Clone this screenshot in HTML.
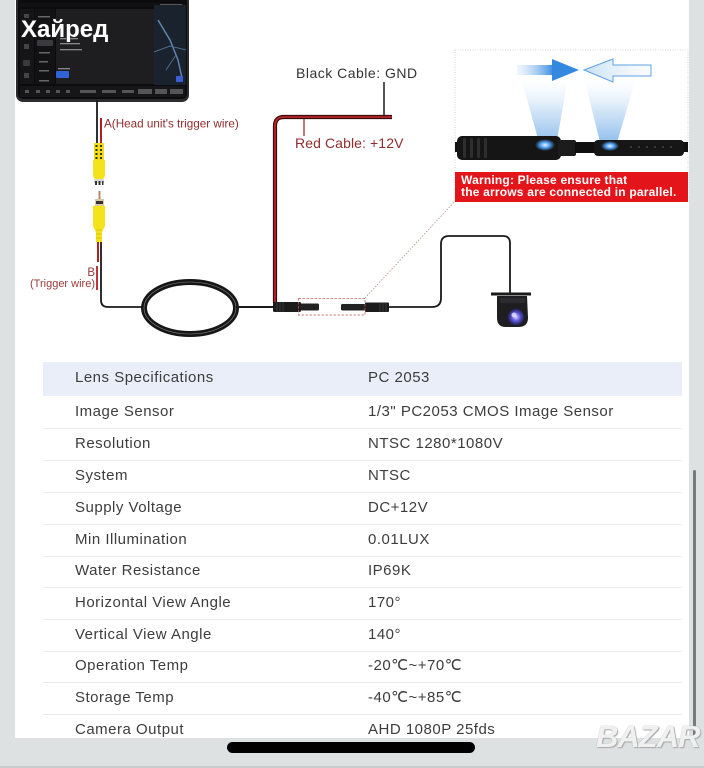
<!DOCTYPE html>
<html>
<head>
<meta charset="utf-8">
<style>
  html,body{margin:0;padding:0;}
  body{width:704px;height:768px;background:#dde1e1;position:relative;overflow:hidden;font-family:"Liberation Sans",Arial,sans-serif;}
  #panel{position:absolute;left:15px;top:0;width:674px;height:738px;background:#fff;overflow:hidden;}
  .lbl{position:absolute;white-space:nowrap;}
  .row{position:absolute;left:0;width:674px;height:18px;line-height:18px;font-size:15px;letter-spacing:0.5px;color:#3d3d3d;}
  .row .k{position:absolute;left:60px;}
  .row .v{position:absolute;left:353px;}
  .sep{position:absolute;left:28px;width:639px;height:1px;background:#ececec;}
</style>
</head>
<body>
<div id="panel">
  <div style="position:absolute;left:28px;top:362px;width:639px;height:34px;background:#e9eef9;"></div>
  <div class="row" style="top:369px;"><span class="k">Lens Specifications</span><span class="v">PC 2053</span></div>
  <div class="row" style="top:403px;"><span class="k">Image Sensor</span><span class="v">1/3" PC2053 CMOS Image Sensor</span></div>
  <div class="sep" style="top:428px;"></div>
  <div class="row" style="top:435px;"><span class="k">Resolution</span><span class="v">NTSC 1280*1080V</span></div>
  <div class="sep" style="top:460px;"></div>
  <div class="row" style="top:467px;"><span class="k">System</span><span class="v">NTSC</span></div>
  <div class="sep" style="top:492px;"></div>
  <div class="row" style="top:499px;"><span class="k">Supply Voltage</span><span class="v">DC+12V</span></div>
  <div class="sep" style="top:524px;"></div>
  <div class="row" style="top:531px;"><span class="k">Min Illumination</span><span class="v">0.01LUX</span></div>
  <div class="sep" style="top:556px;"></div>
  <div class="row" style="top:562px;"><span class="k">Water Resistance</span><span class="v">IP69K</span></div>
  <div class="sep" style="top:587px;"></div>
  <div class="row" style="top:594px;"><span class="k">Horizontal View Angle</span><span class="v">170°</span></div>
  <div class="sep" style="top:619px;"></div>
  <div class="row" style="top:626px;"><span class="k">Vertical View Angle</span><span class="v">140°</span></div>
  <div class="sep" style="top:651px;"></div>
  <div class="row" style="top:657px;"><span class="k">Operation Temp</span><span class="v">-20℃~+70℃</span></div>
  <div class="sep" style="top:682px;"></div>
  <div class="row" style="top:689px;"><span class="k">Storage Temp</span><span class="v">-40℃~+85℃</span></div>
  <div class="sep" style="top:714px;"></div>
  <div class="row" style="top:721px;"><span class="k">Camera Output</span><span class="v">AHD 1080P 25fds</span></div>
</div>

<svg width="704" height="360" viewBox="0 0 704 360" style="position:absolute;left:0;top:0;">
  <defs>
    <linearGradient id="a1" x1="0" y1="0" x2="1" y2="0">
      <stop offset="0" stop-color="#cfe3f7" stop-opacity="0.3"/>
      <stop offset="1" stop-color="#3b8ee2"/>
    </linearGradient>
    <linearGradient id="a2" x1="0" y1="0" x2="1" y2="0">
      <stop offset="0" stop-color="#c7dff6"/>
      <stop offset="1" stop-color="#eef5fc" stop-opacity="0.3"/>
    </linearGradient>
    <linearGradient id="beam" x1="0" y1="0" x2="0" y2="1">
      <stop offset="0" stop-color="#ffffff" stop-opacity="0.2"/>
      <stop offset="0.5" stop-color="#bcd8f3" stop-opacity="0.7"/>
      <stop offset="1" stop-color="#6aa9e6" stop-opacity="0.8"/>
    </linearGradient>
    <radialGradient id="lens" cx="0.5" cy="0.5" r="0.5">
      <stop offset="0" stop-color="#d9d4ff"/>
      <stop offset="0.5" stop-color="#5a55d8"/>
      <stop offset="1" stop-color="#1d1b40"/>
    </radialGradient>
    <radialGradient id="glow" cx="0.5" cy="0.5" r="0.5">
      <stop offset="0" stop-color="#e8f4ff"/>
      <stop offset="0.5" stop-color="#4a9bf0"/>
      <stop offset="1" stop-color="#4a9bf0" stop-opacity="0"/>
    </radialGradient>
  </defs>

  <rect x="16" y="-8" width="173" height="110" rx="7" fill="#2b2b2e"/>
  <rect x="18" y="-6" width="169" height="105" rx="5" fill="#0c0c0e"/>
  <rect x="20" y="3" width="165" height="4" fill="#111"/>
  <rect x="160" y="4" width="22" height="2" fill="#555"/>
  <rect x="20" y="9" width="14" height="75" fill="#151517"/>
  <rect x="24" y="14" width="5" height="4" fill="#444"/>
  <rect x="24" y="44" width="5" height="5" fill="#444"/>
  <rect x="23" y="60" width="7" height="6" rx="1" fill="#3a3a3e"/>
  <rect x="24" y="73" width="5" height="5" fill="#444"/>
  <rect x="35" y="9" width="20" height="75" fill="#121214"/>
  <rect x="38" y="16" width="12" height="1.5" fill="#666"/>
  <rect x="37" y="40" width="16" height="6" rx="1" fill="#3a3a3f"/>
  <rect x="39" y="52" width="11" height="1.5" fill="#666"/>
  <rect x="39" y="61" width="9" height="1.5" fill="#666"/>
  <rect x="39" y="70" width="10" height="1.5" fill="#666"/>
  <rect x="39" y="80" width="10" height="1.5" fill="#666"/>
  <rect x="56" y="9" width="98" height="75" fill="#1e1e21"/>
  <rect x="60" y="38" width="18" height="1.3" fill="#888"/>
  <rect x="60" y="43" width="20" height="1.3" fill="#888"/>
  <rect x="60" y="49" width="22" height="1.3" fill="#888"/>
  <rect x="58" y="68" width="12" height="1.3" fill="#888"/>
  <rect x="56" y="71" width="13" height="7" rx="1" fill="#2f63d6"/>
  <rect x="154" y="5" width="32" height="80" fill="#1a222d"/>
  <path d="M158 20 L170 40 L178 60 L182 78" stroke="#5e84ad" stroke-width="1.5" fill="none"/>
  <path d="M154 52 L170 46 L186 50" stroke="#4d6c8c" stroke-width="1" fill="none"/>
  <path d="M166 70 L176 55" stroke="#4d6c8c" stroke-width="1" fill="none"/>
  <rect x="176" y="76" width="7" height="6" fill="#3c5fd0"/>
  <rect x="20" y="86" width="165" height="11" fill="#161618"/>
  <g fill="#555">
    <rect x="25" y="90" width="4" height="3"/><rect x="36" y="90" width="4" height="3"/><rect x="46" y="90" width="4" height="3"/>
    <rect x="56" y="90" width="4" height="3"/><rect x="66" y="90" width="4" height="3"/><rect x="80" y="90" width="16" height="3"/>
    <rect x="102" y="90" width="14" height="3"/><rect x="122" y="90" width="12" height="3"/><rect x="138" y="89" width="14" height="5"/>
    <rect x="155" y="89" width="12" height="5"/><rect x="170" y="89" width="13" height="5"/>
  </g>
  <text x="21" y="37" font-family="Liberation Sans, DejaVu Sans, sans-serif" font-weight="bold" font-size="24" fill="#fff" style="paint-order:stroke" stroke="#222" stroke-width="1">Хайред</text>

  <line x1="97" y1="100" x2="97" y2="145" stroke="#1a1a1a" stroke-width="1.8"/>
  <line x1="101" y1="118" x2="101" y2="145" stroke="#b3211f" stroke-width="2"/>
  <rect x="94" y="143" width="10" height="17" fill="#f3dc10"/>
  <g fill="#333">
    <rect x="95.5" y="145" width="2" height="2"/><rect x="100" y="145" width="2" height="2"/>
    <rect x="95.5" y="149" width="2" height="2"/><rect x="100" y="149" width="2" height="2"/>
    <rect x="95.5" y="153" width="2" height="2"/><rect x="100" y="153" width="2" height="2"/>
    <rect x="95.5" y="157" width="2" height="2"/><rect x="100" y="157" width="2" height="2"/>
  </g>
  <path d="M93 160 L105 160 L105 174 Q105 180 99 180 Q93 180 93 174 Z" fill="#f5e21a"/>
  <rect x="94" y="179" width="10" height="4" fill="#dadada"/>
  <rect x="95" y="181" width="2" height="4" fill="#333"/><rect x="98.5" y="181" width="2" height="4" fill="#333"/><rect x="102" y="181" width="1.5" height="4" fill="#333"/>
  <rect x="98.5" y="191" width="2" height="9" fill="#b58a6a"/>
  <rect x="95" y="199" width="9" height="7" fill="#d9c9a8"/>
  <rect x="96" y="201" width="7" height="3" fill="#333"/>
  <path d="M93 206 L105 206 L105 226 L102 232 L102 242 L96 242 L96 232 L93 226 Z" fill="#f5e21a"/>
  <g stroke="#d8c000" stroke-width="0.8"><line x1="96" y1="230" x2="102" y2="230"/><line x1="96" y1="234" x2="102" y2="234"/><line x1="96" y1="238" x2="102" y2="238"/></g>
  <line x1="98" y1="242" x2="98" y2="262" stroke="#b3211f" stroke-width="2"/>
  <line x1="97" y1="266" x2="97" y2="290" stroke="#b3211f" stroke-width="1.8"/>
  <path d="M101 242 L101 300 Q101 307 108 307 L143 307" stroke="#1a1a1a" stroke-width="1.8" fill="none"/>

  <ellipse cx="190" cy="308" rx="46" ry="26" fill="none" stroke="#161616" stroke-width="6"/>
  <ellipse cx="190" cy="308" rx="46" ry="26" fill="none" stroke="#8a8a8a" stroke-width="0.6"/>
  <line x1="236" y1="307" x2="276" y2="307" stroke="#1a1a1a" stroke-width="2"/>

  <path d="M275 303 L275 126 Q275 117 284 117 L392 117" stroke="#3b0a0a" stroke-width="4.2" fill="none"/>
  <path d="M275 303 L275 126 Q275 117 284 117 L392 117" stroke="#b9262a" stroke-width="1.8" fill="none"/>
  <line x1="384" y1="82" x2="384" y2="115" stroke="#1a1a1a" stroke-width="1.5"/>
  <line x1="304" y1="119" x2="304" y2="136" stroke="#9b2f2f" stroke-width="1.3"/>

  <rect x="273" y="302" width="28" height="10" rx="1.5" fill="#1c1c1c"/>
  <g stroke="#444" stroke-width="0.7"><line x1="277" y1="302" x2="277" y2="312"/><line x1="280" y1="302" x2="280" y2="312"/><line x1="283" y1="302" x2="283" y2="312"/></g>
  <rect x="300" y="303.5" width="19" height="7" rx="1.5" fill="#222"/>
  <rect x="341" y="304" width="25" height="6.5" rx="1.5" fill="#222"/>
  <rect x="365" y="302.5" width="24" height="9.5" rx="1" fill="#1c1c1c"/>
  <g stroke="#444" stroke-width="0.7"><line x1="380" y1="303" x2="380" y2="312"/><line x1="383" y1="303" x2="383" y2="312"/><line x1="386" y1="303" x2="386" y2="312"/></g>
  <rect x="298.5" y="298.5" width="66.5" height="16.5" fill="none" stroke="#c0605a" stroke-width="0.8" stroke-dasharray="2.5 1.5"/>
  <line x1="365" y1="298" x2="456" y2="200" stroke="#b88c85" stroke-width="0.8" stroke-dasharray="1.5 1.5"/>

  <path d="M389 307 L432 307 Q441 307 441 298 L441 244 Q441 236 449 236 L503 236 Q510 236 510 243 L510 294" stroke="#1a1a1a" stroke-width="1.8" fill="none"/>
  <rect x="491" y="292.5" width="40" height="3" fill="#1b1b1b"/>
  <path d="M497 296 L527 296 L528 318 Q528 327 518 327 L506 327 Q497 327 497 318 Z" fill="#1e1e20"/>
  <path d="M500 298 L525 298 L525 303 L500 303 Z" fill="#2c2c30"/>
  <circle cx="516" cy="317" r="8.5" fill="url(#lens)"/>
  <circle cx="514" cy="315" r="2.5" fill="#e6e2ff" opacity="0.8"/>

  <rect x="455" y="50" width="233" height="151" fill="#fff" stroke="#c8c8c8" stroke-width="0.8" stroke-dasharray="1 1.5"/>
  <polygon points="521,78 568,78 556,146 540,146" fill="url(#beam)"/>
  <polygon points="584,78 636,78 616,146 601,146" fill="url(#beam)"/>
  <rect x="517" y="65" width="36" height="10" fill="url(#a1)"/>
  <polygon points="552,59 579,70 552,81" fill="#3488e0"/>
  <polygon points="584,70 613,59 613,65 651,65 651,76 613,76 613,82" fill="url(#a2)" stroke="#5ea1e3" stroke-width="1"/>
  <rect x="455" y="142" width="233" height="10" fill="#111"/>
  <rect x="457" y="136" width="104" height="24" rx="5" fill="#151515"/>
  <g fill="#2e2e2e">
    <rect x="463" y="138" width="3" height="20" rx="1"/><rect x="470" y="138" width="3" height="20" rx="1"/>
    <rect x="477" y="138" width="3" height="20" rx="1"/><rect x="484" y="138" width="3" height="20" rx="1"/>
  </g>
  <rect x="558" y="140" width="18" height="16" rx="2" fill="#1c1c1c"/>
  <rect x="575" y="143" width="20" height="10" fill="#0f0f0f"/>
  <rect x="594" y="140" width="90" height="16" rx="4" fill="#161616"/>
  <g fill="#3a3a3a">
    <rect x="630" y="146" width="2" height="2"/><rect x="638" y="146" width="2" height="2"/><rect x="646" y="146" width="2" height="2"/><rect x="654" y="146" width="2" height="2"/><rect x="662" y="146" width="2" height="2"/><rect x="670" y="146" width="2" height="2"/>
  </g>
  <ellipse cx="545" cy="145" rx="10" ry="6" fill="url(#glow)"/>
  <ellipse cx="610" cy="146" rx="9" ry="5" fill="url(#glow)"/>
  <rect x="455" y="172" width="233" height="30" fill="#e3151b"/>
  <text x="461" y="184" font-family="Liberation Sans, sans-serif" font-weight="bold" font-size="12" letter-spacing="0.2" fill="#fff">Warning: Please ensure that</text>
  <text x="461" y="196" font-family="Liberation Sans, sans-serif" font-weight="bold" font-size="12" letter-spacing="0.2" fill="#fff">the arrows are connected in parallel.</text>

  <text x="104" y="127.5" font-family="Liberation Sans, sans-serif" font-size="11.7" fill="#8e2e2e">A(Head unit's trigger wire)</text>
  <text x="95" y="276" text-anchor="end" font-family="Liberation Sans, sans-serif" font-size="11.5" fill="#9a3a3a">B</text>
  <text x="95" y="287" text-anchor="end" font-family="Liberation Sans, sans-serif" font-size="11" fill="#9a3a3a">(Trigger wire)</text>
  <text x="296" y="78" font-family="Liberation Sans, sans-serif" font-size="14" letter-spacing="0.5" fill="#333">Black Cable: GND</text>
  <text x="295" y="148" font-family="Liberation Sans, sans-serif" font-size="14" letter-spacing="0.1" fill="#8e2e2e">Red Cable: +12V</text>
</svg>

<div style="position:absolute;left:693px;top:470px;width:3px;height:268px;background:#7a7a7a;border-radius:2px;"></div>
<div style="position:absolute;left:227px;top:742px;width:248px;height:11px;background:#000;border-radius:6px;"></div>
<div class="lbl" style="left:596px;top:719px;font-size:31px;font-weight:bold;font-style:italic;color:rgba(255,255,255,0.85);text-shadow:0 0 1px #999,1px 1px 1px #aaa;letter-spacing:-1px;">BAZAR</div>
<div style="position:absolute;left:0;top:766px;width:704px;height:2px;background:#c9cdcd;"></div>
</body>
</html>
